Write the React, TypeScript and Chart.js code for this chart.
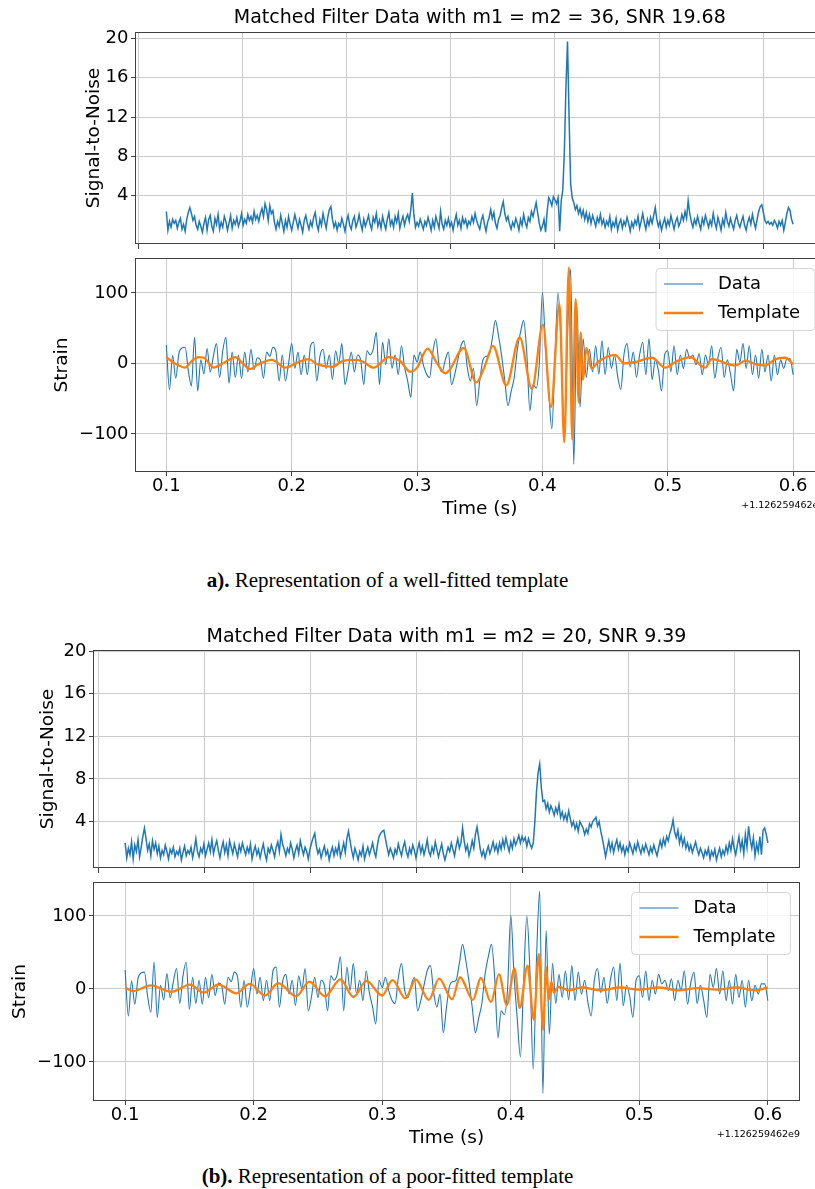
import React, { useEffect, useRef } from "react";
import { Chart, registerables } from "chart.js";

Chart.register(...registerables);

const FONT = "DejaVu Sans";
const BLUE = "#1f77b4";
const ORANGE = "#ff7f0e";
const GRID = "#cbcbcb";
const SPINE = "#404040";

// ---- axes / labels ----
const T_START = 0.1;
const SNR_DT = 0.00125;
const STRAIN_DT = 0.0025;
const X_MIN = 0.075;
const X_MAX = 0.625;
const timeTicks = [0.1, 0.2, 0.3, 0.4, 0.5, 0.6];
const topGridA = [0.078, 0.161, 0.244, 0.327, 0.41, 0.493, 0.576];
const topGridB = [0.0796, 0.162, 0.2445, 0.3269, 0.4093, 0.4918, 0.5742];
const snrTicks = [4, 8, 12, 16, 20];
const strainTicks = [-100, 0, 100];
const offsetLabel = "+1.126259462e9";
const titleA = "Matched Filter Data with m1 = m2 = 36, SNR 19.68";
const titleB = "Matched Filter Data with m1 = m2 = 20, SNR 9.39";
const legendLabels = ["Data", "Template"];

// ---- SNR time series (t = 0.1 ... 0.6, step 0.00125) ----
const snrA = [
  2.4, 0.5, 1.4, 0.8, 1.6, 1.2, 1.5, 0.7, 1.3, 1.7, 0.6, 1.1, 0.4, 1.6, 2.3, 2.8, 2.2, 1.5, 1.9, 1.0,
  0.6, 1.4, 0.9, 0.3, 1.2, 1.8, 0.5, 1.6, 2.0, 0.9, 0.4, 1.7, 1.1, 2.1, 0.6, 1.3, 0.8, 1.9, 1.4, 0.5,
  1.2, 2.0, 0.7, 1.5, 1.1, 1.8, 0.9, 1.4, 2.2, 1.0, 1.6, 1.2, 2.1, 1.5, 1.9, 1.3, 2.4, 1.6, 2.0, 1.4,
  2.2, 2.7, 1.9, 3.2, 2.6, 1.5, 3.0, 2.2, 2.5, 1.3, 0.6, 1.4, 0.9, 2.0, 1.2, 0.4, 1.5, 0.8, 1.9, 1.1,
  0.5, 1.3, 2.1, 1.4, 0.7, 1.6, 1.0, 0.3, 1.5, 2.0, 1.2, 0.6, 1.4, 0.9, 1.8, 2.3, 1.1, 0.5, 1.6, 1.0,
  2.2, 1.4, 0.7, 1.8, 2.6, 2.9, 1.6, 0.8, 1.3, 0.5, 1.2, 0.9, 1.7, 1.1, 0.4, 1.4, 2.0, 1.0, 0.6, 1.5,
  1.9, 0.8, 1.3, 2.1, 1.2, 0.5, 1.6, 0.9, 1.4, 2.0, 1.1, 0.6, 1.8, 1.3, 2.2, 0.9, 1.5, 0.7, 1.9, 1.2,
  0.6, 1.6, 2.3, 1.0, 1.5, 0.8, 1.9, 1.3, 2.2, 0.7, 1.4, 1.9, 1.0, 1.7, 2.1, 1.4, 2.6, 4.27, 2.0, 0.8,
  1.3, 0.9, 1.6, 1.1, 0.6, 1.4, 1.0, 1.8, 1.2, 0.5, 1.5, 0.8, 1.9, 1.3, 0.7, 2.4, 1.1, 0.6, 1.5, 1.0,
  1.7, 0.9, 1.3, 0.5, 1.4, 2.1, 1.0, 1.5, 0.7, 1.8, 1.2, 1.6, 0.8, 1.4, 1.1, 1.9, 1.3, 2.2, 1.5, 1.0,
  0.6, 1.5, 2.0, 1.1, 0.4, 1.3, 1.8, 2.6, 1.7, 2.3, 1.2, 0.7, 1.6, 2.0, 2.8, 3.4, 2.2, 1.5, 1.9, 1.1,
  0.6, 1.3, 0.9, 1.7, 1.2, 0.5, 1.6, 1.0, 2.1, 1.3, 0.8, 1.8, 1.4, 2.4, 1.9, 2.6, 3.3, 2.2, 1.2, 0.5,
  0.9, 1.6, 0.3, 2.4, 3.8, 3.5, 3.0, 3.9, 3.6, 3.2, 3.8, 0.4, 3.5, 4.6, 8.5, 15.0, 19.68, 12.0, 5.2, 3.8,
  3.3, 2.6, 3.0, 2.2, 2.7, 1.9, 2.5, 1.6, 2.3, 1.4, 2.1, 1.2, 2.0, 1.5, 0.9, 1.8, 1.3, 2.1, 1.1, 1.6,
  0.8, 1.4, 1.0, 1.9, 0.6, 1.3, 0.9, 1.7, 0.5, 1.2, 1.6, 0.7, 1.4, 1.0, 1.8, 1.2, 0.4, 1.3, 0.8, 1.5,
  1.1, 1.9, 0.7, 1.4, 2.2, 1.3, 0.6, 1.6, 1.0, 1.8, 1.2, 2.0, 2.8, 1.6, 0.9, 1.4, 0.5, 1.2, 1.7, 0.8,
  1.5, 1.0, 2.0, 1.3, 0.6, 1.4, 1.8, 0.9, 1.3, 2.1, 1.5, 2.4, 1.7, 3.5, 2.2, 1.4, 0.8, 1.6, 1.1, 1.9,
  1.2, 0.6, 1.7, 1.1, 2.0, 1.4, 0.8, 1.5, 1.0, 2.2, 1.3, 0.7, 1.8, 1.2, 0.5, 1.6, 1.0, 2.3, 1.4, 0.9,
  1.7, 1.1, 0.6, 1.5, 2.0, 1.2, 0.8, 1.4, 1.9, 1.0, 0.5, 1.3, 1.8, 1.1, 2.1, 1.3, 0.7, 1.6, 2.4, 2.9,
  3.1, 2.3, 1.5, 1.2, 1.4, 1.1, 1.3, 1.0, 1.5, 1.2, 0.7, 1.4, 1.0, 1.5, 0.5, 1.3, 2.2, 2.8, 2.5, 1.6,
  1.1,
];

const snrB = [
  2.0, 0.6, 1.5, 0.9, 2.1, 0.5, 1.8, 1.2, 2.3, 0.7, 1.6, 2.6, 3.38, 2.4, 1.3, 1.9, 0.8, 2.2, 1.4, 2.0,
  1.0, 1.7, 0.6, 1.3, 0.9, 1.8, 1.2, 0.5, 1.4, 1.0, 1.6, 0.7, 1.2, 0.9, 1.5, 0.4, 1.1, 1.7, 0.8, 1.3,
  1.0, 1.6, 0.6, 1.4, 2.4, 1.2, 0.7, 1.5, 1.1, 1.9, 0.8, 1.4, 2.0, 1.2, 2.3, 1.0, 1.7, 2.2, 1.3, 0.6,
  1.5, 2.1, 1.1, 1.8, 0.8, 2.2, 1.6, 1.0, 1.9, 1.3, 0.7, 1.8, 1.2, 2.0, 1.4, 0.9, 1.6, 1.1, 1.9, 0.5,
  1.2, 1.7, 0.9, 1.4, 0.6, 1.3, 1.9, 1.0, 0.4, 1.5, 1.1, 1.8, 1.3, 0.7, 1.6, 2.1, 1.2, 2.8, 1.9, 1.4,
  0.8, 1.5, 1.1, 2.0, 1.4, 0.6, 1.3, 1.8, 1.0, 2.2, 1.5, 0.9, 1.6, 1.2, 0.5, 1.4, 2.0, 2.5, 2.9, 1.7,
  1.0, 1.4, 0.6, 1.2, 1.7, 0.9, 1.3, 0.4, 1.1, 1.6, 0.8, 1.5, 1.0, 1.9, 0.7, 1.3, 2.0, 1.1, 2.4, 3.1,
  2.2, 1.3, 0.6, 1.5, 1.0, 0.4, 1.2, 0.8, 1.7, 0.5, 1.1, 1.6, 0.9, 1.4, 2.0, 1.2, 0.7, 1.8, 2.6, 2.9,
  3.1, 3.2, 2.4, 1.6, 0.9, 1.5, 1.1, 0.6, 1.4, 1.0, 1.9, 1.3, 0.8, 1.6, 2.1, 1.2, 0.7, 1.5, 1.0, 1.8,
  1.3, 0.6, 1.4, 2.0, 1.1, 1.7, 0.9, 1.5, 2.3, 1.2, 0.8, 1.6, 1.1, 2.1, 1.4, 0.7, 1.3, 1.9, 1.0, 0.4,
  1.0, 1.6, 1.2, 2.0, 1.4, 0.8, 1.7, 2.4, 1.5, 2.0, 3.4, 2.2, 1.3, 1.8, 0.8, 1.4, 2.2, 1.5, 2.8, 3.5,
  2.5, 1.4, 0.8, 1.3, 0.6, 1.2, 1.7, 1.0, 1.5, 2.1, 1.3, 1.8, 1.1, 2.0, 1.4, 2.3, 1.6, 2.5, 1.8, 1.2,
  2.1, 1.5, 2.4, 1.8, 2.2, 2.7, 2.0, 2.6, 2.2, 2.5, 1.7, 2.4, 1.9, 1.5, 2.0, 4.0, 6.8, 8.6, 9.41, 7.2,
  5.9, 6.0, 5.2, 5.7, 4.9, 5.5, 5.1, 4.6, 5.3, 4.8, 5.6, 4.4, 4.9, 4.2, 4.7, 4.1, 5.0, 4.3, 3.6, 4.0,
  3.3, 3.8, 3.1, 4.0, 3.7, 3.4, 2.8, 3.3, 2.9, 3.8, 3.5, 4.0, 4.2, 4.4, 3.6, 4.0, 3.1, 2.4, 1.6, 0.7,
  1.5, 2.2, 1.3, 2.0, 1.1, 1.8, 2.3, 1.4, 2.0, 1.2, 1.7, 0.9, 1.6, 1.2, 2.0, 1.5, 1.0, 1.8, 1.3, 2.1,
  1.5, 1.0, 1.7, 1.2, 1.9, 1.4, 0.9, 1.6, 1.1, 1.8, 1.3, 0.8, 1.5, 2.2, 1.6, 2.4, 1.8, 2.6, 2.2, 2.9,
  3.4, 4.16, 3.0, 2.5, 3.2, 2.0, 2.7, 1.8, 2.4, 1.5, 2.0, 1.3, 1.8, 1.1, 1.6, 2.1, 1.4, 0.9, 1.5, 1.1,
  0.6, 1.3, 0.9, 1.5, 0.5, 1.2, 0.8, 1.4, 0.4, 1.0, 1.5, 0.7, 1.3, 0.9, 1.7, 1.1, 2.0, 1.3, 2.4, 1.5,
  0.9, 1.8, 2.6, 1.4, 2.2, 1.0, 2.8, 1.6, 3.55, 2.3, 1.5, 2.5, 0.8, 1.9, 1.2, 2.6, 0.9, 3.2, 3.4, 2.8,
  2.0,
];

// ---- whitened strain data (t = 0.1 ... 0.6, step 0.0025) ----
const strainData = [
  26, -37, 11, -21, 14, 22, 23, -10, -32, 37,
  -39, 5, -15, 21, -12, 10, 28, -20, 18, 37,
  -28, 16, -20, 12, -21, 16, -12, 20, -9, 8,
  5, -21, 16, 10, 23, 16, -25, 12, -25, 0,
  28, -7, 16, -16, 12, -16, 25, 30, -25, 10,
  20, -7, 12, -23, 18, 0, 28, -30, -10, 16,
  -12, 12, 5, -30, 18, 12, 20, 44, -30, 30,
  -2, 35, -7, 12, -16, 25, -5, -25, -48, 12,
  2, 16, -2, -15, -20, 15, 35, -2, -12, 5,
  16, -30, -16, 5, 25, 32, -5, -25, -7, -60,
  -25, 5, 10, 12, 35, 61, 39, 10, -25, -60,
  -40, -20, 20, 44, 61, 15, -67, -30, -35, 0,
  101, 20, -40, -93, 10, 100, 20, -110, 40, 134,
  -143, 80, -62, 35, -20, 20, -12, 25, -15, 32,
  -16, 23, -7, 12, -18, -37, 12, 28, -5, 16,
  -20, 12, 30, -16, 35, -23, 5, -10, -39, 12,
  18, -12, 25, -16, 12, -7, 20, 7, 12, -2,
  14, -16, 12, -2, 25, -21, 8, 23, -20, 5,
  -15, -39, 20, 2, 28, -7, 25, -16, 12, -21,
  20, -12, 12, -25, 12, -16, 5, -7, 7, 7,
  -16,
];

// ---- template A (m1 = m2 = 36): turning points ----
const tplATimes = [
  0.1, 0.105, 0.11, 0.115, 0.12, 0.1258, 0.13, 0.1378, 0.1431, 0.149, 0.1551, 0.161, 0.167, 0.1724,
  0.1843, 0.195, 0.2056, 0.2136, 0.2202, 0.2322, 0.2402, 0.2508, 0.256, 0.2653, 0.2774, 0.2866,
  0.2946, 0.3, 0.3084, 0.316, 0.3225, 0.326, 0.3372, 0.3472, 0.354, 0.3605, 0.3712, 0.3818, 0.3916,
  0.4004, 0.4068, 0.4136, 0.4174, 0.4211, 0.4238, 0.4265, 0.4289, 0.4305, 0.4324, 0.4351, 0.4391,
  0.445, 0.458, 0.465, 0.474, 0.4873, 0.4979, 0.506, 0.5179, 0.5298, 0.535, 0.5538, 0.562, 0.57,
  0.5777, 0.586, 0.5936, 0.6,
];
const tplAValues = [
  9, 2, -3, -6, 3, 9, 8, -6, -2, 4, 9, 0, -8, -2,
  5, -6, 2, 6, -1, -5, 3, 5, 3, -6, 9, 3,
  -12, -6, 21, 0, -14, -9, 22, -27, -4, 25, -31, 37, -36,
  55, -62, 84, -112, 136, -108, 91, -55, 44, -23, 22, -7,
  3, 12, 0, 2, 8, -6, 2, 9, -6, 6, -3, 4, -1,
  -3, 6, 8, -1,
];

// ---- template B (m1 = m2 = 20): turning points ----
const tplBTimes = [
  0.1, 0.106, 0.12, 0.136, 0.1504, 0.161, 0.1726, 0.1867, 0.1968, 0.2089, 0.219, 0.2332, 0.2433,
  0.2554, 0.2675, 0.2776, 0.2877, 0.2999, 0.308, 0.318, 0.3261, 0.3362, 0.3443, 0.3544, 0.3605,
  0.3706, 0.3767, 0.3846, 0.3908, 0.3969, 0.4029, 0.407, 0.413, 0.4179, 0.4219, 0.4251, 0.4275,
  0.4295, 0.4315, 0.4335, 0.437, 0.445, 0.455, 0.47, 0.485, 0.5, 0.515, 0.53, 0.545, 0.56, 0.575,
  0.59, 0.6,
];
const tplBValues = [
  2, -3, 5, -4, 6, -5, 6, -6, 7, -9, 8, -10, 10,
  -10, 13, -11, 11, -9, 12, -13, 13, -15, 14, -14, 16,
  -15, 15, -18, 20, -22, 28, -26, 32, -42, 48, -56, 30,
  -15, 10, -5, 3, -2, 2, -2, 2, -1, 2, -2, 1, -1, 2,
  -2, 2,
];

// ---- helpers ----
const sampled = (vals: number[], dt: number) => vals.map((v, i) => ({ x: T_START + i * dt, y: v }));
const paired = (ts: number[], vs: number[]) => ts.map((t, i) => ({ x: t, y: vs[i] }));
const fmtStrain = (v: number) => (v < 0 ? "\u2212" + Math.abs(v) : String(v));

const framePlugin = {
  id: "frame",
  afterDatasetsDraw(chart: any) {
    const { ctx, chartArea: a } = chart;
    ctx.save();
    ctx.strokeStyle = SPINE;
    ctx.lineWidth = 1;
    const l = Math.round(a.left) + 0.5;
    const t = Math.round(a.top) + 0.5;
    const r = Math.round(a.right) - 0.5;
    const b = Math.round(a.bottom) - 0.5;
    ctx.strokeRect(l, t, r - l, b - t);
    ctx.restore();
  },
};

const legendPlugin = {
  id: "mplLegend",
  afterDraw(chart: any) {
    const { ctx, chartArea: a } = chart;
    const w = 159;
    const h = 62;
    const x = a.right - 9.5 - w;
    const y = a.top + 10.5;
    ctx.save();
    ctx.beginPath();
    const r = 4;
    ctx.moveTo(x + r, y);
    ctx.lineTo(x + w - r, y);
    ctx.arcTo(x + w, y, x + w, y + r, r);
    ctx.lineTo(x + w, y + h - r);
    ctx.arcTo(x + w, y + h, x + w - r, y + h, r);
    ctx.lineTo(x + r, y + h);
    ctx.arcTo(x, y + h, x, y + h - r, r);
    ctx.lineTo(x, y + r);
    ctx.arcTo(x, y, x + r, y, r);
    ctx.closePath();
    ctx.fillStyle = "rgba(255,255,255,0.8)";
    ctx.fill();
    ctx.strokeStyle = "#d6d6d6";
    ctx.lineWidth = 1;
    ctx.stroke();
    const colors = [BLUE, ORANGE];
    const widths = [1.1, 2.4];
    legendLabels.forEach((lab, k) => {
      const cy = y + 15.5 + k * 29;
      ctx.beginPath();
      ctx.strokeStyle = colors[k];
      ctx.lineWidth = widths[k];
      ctx.moveTo(x + 8, cy);
      ctx.lineTo(x + 47, cy);
      ctx.stroke();
      ctx.fillStyle = "#000";
      ctx.font = `18px "${FONT}"`;
      ctx.textAlign = "left";
      ctx.textBaseline = "middle";
      ctx.fillText(lab, x + 62, cy);
    });
    ctx.restore();
  },
};

const offsetPlugin = {
  id: "offsetText",
  afterDraw(chart: any) {
    const { ctx, chartArea: a } = chart;
    ctx.save();
    ctx.fillStyle = "#000";
    ctx.font = `9.5px "${FONT}"`;
    ctx.textAlign = "right";
    ctx.textBaseline = "middle";
    ctx.fillText(offsetLabel, a.right, a.bottom + 33.5);
    ctx.restore();
  },
};

const fixYAxis = (width: number) => (s: any) => {
  s.width = width;
  s.paddingTop = 0;
  s.paddingBottom = 0;
};
const fixXAxis = (height: number) => (s: any) => {
  s.height = height;
  s.paddingLeft = 0;
  s.paddingRight = 0;
};

function snrConfig(values: number[], gridTicks: number[], title: string, g: any) {
  return {
    type: "line",
    data: {
      datasets: [
        { data: sampled(values, SNR_DT), borderColor: BLUE, borderWidth: 1.5, pointRadius: 0, tension: 0, fill: false },
      ],
    },
    options: {
      responsive: false,
      animation: false,
      events: [],
      devicePixelRatio: 1,
      layout: { padding: { left: 0, right: g.padRight, top: 0, bottom: 0 } },
      plugins: {
        legend: { display: false },
        tooltip: { enabled: false },
        title: {
          display: true,
          text: title,
          fullSize: false,
          color: "#000",
          font: { family: FONT, size: 19, weight: "normal", lineHeight: 1.2 },
          padding: { top: g.titlePadTop, bottom: g.titlePadBottom },
        },
      },
      scales: {
        x: {
          type: "linear",
          min: X_MIN,
          max: X_MAX,
          afterBuildTicks: (s: any) => {
            s.ticks = gridTicks.map((v) => ({ value: v }));
          },
          ticks: { display: false },
          grid: { color: GRID, lineWidth: 1, tickColor: SPINE, tickLength: 5, drawTicks: true },
          border: { display: false },
          afterFit: fixXAxis(8),
        },
        y: {
          type: "linear",
          min: g.yMin,
          max: g.yMax,
          afterBuildTicks: (s: any) => {
            s.ticks = snrTicks.map((v) => ({ value: v }));
          },
          ticks: { color: "#000", font: { family: FONT, size: 18 }, padding: 2.5, callback: (v: any) => String(v) },
          grid: { color: GRID, lineWidth: 1, tickColor: SPINE, tickLength: 4 },
          border: { display: false },
          title: {
            display: true,
            text: "Signal-to-Noise",
            color: "#000",
            font: { family: FONT, size: 18.5, lineHeight: 1.2 },
            padding: { top: g.yTitlePad, bottom: 0 },
          },
          afterFit: fixYAxis(g.plotLeft),
        },
      },
    },
    plugins: [framePlugin],
  };
}

function strainConfig(tTimes: number[], tValues: number[], g: any) {
  return {
    type: "line",
    data: {
      datasets: [
        {
          label: "Template",
          data: paired(tTimes, tValues),
          borderColor: ORANGE,
          borderWidth: 2.3,
          pointRadius: 0,
          cubicInterpolationMode: "monotone",
          fill: false,
          order: 0,
        },
        {
          label: "Data",
          data: sampled(strainData, STRAIN_DT),
          borderColor: BLUE,
          borderWidth: 1.1,
          pointRadius: 0,
          cubicInterpolationMode: "monotone",
          fill: false,
          order: 1,
        },
      ],
    },
    options: {
      responsive: false,
      animation: false,
      events: [],
      devicePixelRatio: 1,
      layout: { padding: { left: 0, right: g.padRight, top: g.padTop, bottom: 0 } },
      plugins: { legend: { display: false }, tooltip: { enabled: false } },
      scales: {
        x: {
          type: "linear",
          min: X_MIN,
          max: X_MAX,
          afterBuildTicks: (s: any) => {
            s.ticks = timeTicks.map((v) => ({ value: v }));
          },
          ticks: {
            color: "#000",
            font: { family: FONT, size: 18 },
            padding: 0,
            maxRotation: 0,
            minRotation: 0,
            autoSkip: false,
            callback: (v: any) => Number(v).toFixed(1),
          },
          grid: { color: GRID, lineWidth: 1, tickColor: SPINE, tickLength: 4 },
          border: { display: false },
          title: {
            display: true,
            text: "Time (s)",
            color: "#000",
            font: { family: FONT, size: 18.5, lineHeight: 1.2 },
            padding: { top: 0, bottom: g.xTitlePad },
          },
          afterFit: fixXAxis(g.xAxisH),
        },
        y: {
          type: "linear",
          min: g.yMin,
          max: g.yMax,
          afterBuildTicks: (s: any) => {
            s.ticks = strainTicks.map((v) => ({ value: v }));
          },
          ticks: { color: "#000", font: { family: FONT, size: 18 }, padding: 2.5, callback: (v: any) => fmtStrain(Number(v)) },
          grid: { color: GRID, lineWidth: 1, tickColor: SPINE, tickLength: 4 },
          border: { display: false },
          title: {
            display: true,
            text: "Strain",
            color: "#000",
            font: { family: FONT, size: 18.5, lineHeight: 1.2 },
            padding: { top: g.yTitlePad, bottom: 0 },
          },
          afterFit: fixYAxis(g.plotLeft),
        },
      },
    },
    plugins: [framePlugin, legendPlugin, offsetPlugin],
  };
}

function ChartCanvas({ top, width, height, build }: { top: number; width: number; height: number; build: () => any }) {
  const ref = useRef<HTMLCanvasElement | null>(null);
  useEffect(() => {
    if (!ref.current) return;
    const chart = new Chart(ref.current, build());
    return () => chart.destroy();
  }, []);
  return (
    <canvas
      ref={ref}
      width={width}
      height={height}
      style={{ position: "absolute", left: 0, top, width, height, display: "block" }}
    />
  );
}

const geoATop = { plotLeft: 135, padRight: 15.5, titlePadTop: 6.6, titlePadBottom: 2.6, yTitlePad: 83, yMin: -0.9, yMax: 20.65 };
const geoABot = { plotLeft: 135, padRight: 15.5, padTop: 6, xAxisH: 55, xTitlePad: 6.9, yTitlePad: 51, yMin: -154, yMax: 149.5 };
const geoBTop = { plotLeft: 93, padRight: 15, titlePadTop: 25.6, titlePadBottom: 1.6, yTitlePad: 37, yMin: -0.35, yMax: 20.1 };
const geoBBot = { plotLeft: 93, padRight: 15, padTop: 6, xAxisH: 55, xTitlePad: 6.4, yTitlePad: 9, yMin: -153.5, yMax: 146.5 };

export default function App() {
  const cap: React.CSSProperties = {
    position: "absolute",
    left: 0,
    width: 775,
    textAlign: "center",
    fontFamily: '"Liberation Serif", "Times New Roman", serif',
    fontSize: 21,
    lineHeight: "24px",
    color: "#000",
    whiteSpace: "nowrap",
  };
  return (
    <div
      style={{
        position: "absolute",
        left: 0,
        top: 0,
        width: 815,
        height: 1189,
        overflow: "hidden",
        background: "#fff",
      }}
    >
      <ChartCanvas top={0} width={840} height={252} build={() => snrConfig(snrA, topGridA, titleA, geoATop)} />
      <ChartCanvas top={252} width={840} height={275} build={() => strainConfig(tplATimes, tplAValues, geoABot)} />
      <div style={{ ...cap, top: 568 }}>
        <b>a).</b> Representation of a well-fitted template
      </div>
      <ChartCanvas top={600} width={815} height={276} build={() => snrConfig(snrB, topGridB, titleB, geoBTop)} />
      <ChartCanvas top={876} width={815} height={280} build={() => strainConfig(tplBTimes, tplBValues, geoBBot)} />
      <div style={{ ...cap, top: 1164 }}>
        <b>(b).</b> Representation of a poor-fitted template
      </div>
    </div>
  );
}
